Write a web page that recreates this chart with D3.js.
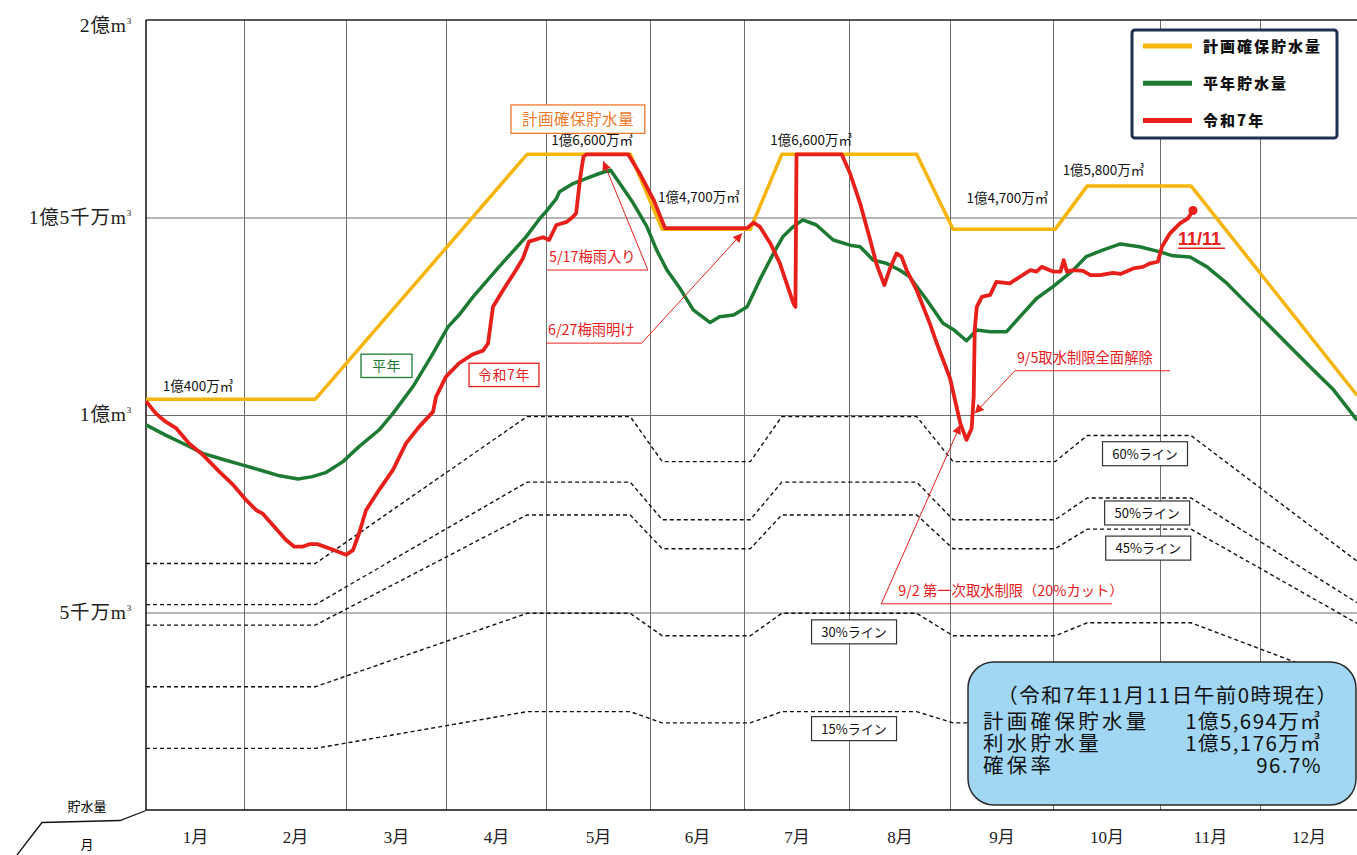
<!DOCTYPE html>
<html>
<head>
<meta charset="utf-8">
<script src="https://cdn.jsdelivr.net/npm/d3@7"></script>
<style>
  body { margin: 0; background: #fff; }
  svg { display: block; font-family: "Noto Sans CJK JP", sans-serif; }
</style>
</head>
<body>
<svg id="chart" width="1357" height="855"></svg>
<script>
// t = months since 1/1 (0..12), values in 百万㎥
var months = ["1月","2月","3月","4月","5月","6月","7月","8月","9月","10月","11月","12月"];
var yTicks = [50, 100, 150, 200];
var yTickLabels = ["5千万", "1億", "1億5千万", "2億"];

// 計画確保貯水量
var planT = [0, 1.70, 3.81, 4.81, 5.13, 6.06, 6.36, 7.67, 8.03, 9.02, 9.32, 10.31, 12];
var planV = [104, 104, 166, 166, 147, 147, 166, 166, 147, 147, 158, 158, 105];

// percentage lines of the plan
var ratios = [60, 50, 45, 30, 15];

// 平年貯水量
var normal = [[0,97.5],[0.20,94.9],[0.41,92.4],[0.58,90.3],[0.78,88.8],[0.99,87.3],[1.18,85.9],[1.35,84.6],
  [1.53,83.8],[1.67,84.4],[1.80,85.4],[1.97,88.2],[2.13,92.0],[2.33,96.2],[2.47,100.4],[2.67,107.2],
  [2.87,115.6],[3.02,122.3],[3.13,125.3],[3.27,129.9],[3.53,137.5],[3.80,145.1],[3.94,149.8],[4.00,151.5],
  [4.10,154.8],[4.13,156.5],[4.26,158.6],[4.39,159.9],[4.52,161.2],[4.62,162.0],[4.71,158.6],[4.84,153.6],
  [4.97,147.7],[5.07,141.8],[5.18,136.7],[5.32,132.0],[5.46,126.6],[5.64,123.4],[5.74,124.9],[5.89,125.3],
  [6.03,127.4],[6.15,134.2],[6.28,140.9],[6.37,145.1],[6.47,147.7],[6.56,149.4],[6.69,148.1],[6.85,144.3],
  [7.01,143.0],[7.11,142.6],[7.24,139.2],[7.37,138.4],[7.50,136.7],[7.60,135.0],[7.77,129.1],[7.93,123.2],
  [8.04,121.5],[8.16,118.8],[8.26,121.5],[8.39,121.1],[8.55,121.1],[8.68,124.9],[8.84,129.5],[9.00,132.5],
  [9.19,136.7],[9.31,140.1],[9.47,141.8],[9.63,143.3],[9.81,142.6],[10.00,141.3],[10.13,140.3],[10.30,140.0],
  [10.47,137.5],[10.67,133.3],[10.87,128.2],[11.07,123.2],[11.31,117.3],[11.55,111.4],[11.76,106.3],[12.00,98.7]];

// 令和7年
var r7 = [[0,103.5],[0.10,100.4],[0.20,98.3],[0.31,96.6],[0.44,92.8],[0.58,89.9],[0.75,85.6],[0.89,82.3],
  [1.02,78.5],[1.12,75.9],[1.18,75.1],[1.31,71.3],[1.41,68.4],[1.49,66.7],[1.58,66.7],[1.64,67.3],[1.72,67.3],
  [1.84,66.2],[2.00,64.6],[2.07,65.8],[2.13,70.0],[2.20,75.9],[2.33,81.0],[2.47,86.1],[2.60,92.8],[2.73,97.0],
  [2.87,100.8],[2.90,104.6],[3.00,109.7],[3.13,113.1],[3.27,115.4],[3.37,116.3],[3.42,118.1],[3.47,127.4],
  [3.57,131.6],[3.70,136.7],[3.77,139.7],[3.83,143.9],[3.97,145.0],[4.03,144.3],[4.10,148.1],[4.20,148.9],
  [4.26,150.2],[4.29,151.1],[4.33,160.3],[4.36,165.4],[4.39,166.0],[4.79,166.0],[4.90,161.2],[5.04,154.4],
  [5.16,147.3],[6.03,147.3],[6.09,148.7],[6.15,147.7],[6.25,143.5],[6.34,138.5],[6.47,128.3],[6.49,127.4],
  [6.50,166.0],[6.93,166.0],[7.01,161.2],[7.11,153.6],[7.21,144.3],[7.27,138.4],[7.35,132.9],[7.40,136.7],
  [7.47,140.9],[7.52,140.1],[7.57,136.7],[7.67,131.6],[7.80,123.2],[7.87,118.1],[8.00,109.3],[8.10,97.9],
  [8.16,93.7],[8.21,96.6],[8.23,104.6],[8.24,121.5],[8.26,127.4],[8.31,129.9],[8.39,130.4],[8.45,133.7],
  [8.58,133.3],[8.68,135.0],[8.78,136.7],[8.84,136.3],[8.89,137.5],[9.00,136.3],[9.07,136.3],[9.10,139.2],
  [9.13,136.3],[9.19,136.7],[9.28,136.5],[9.35,135.4],[9.44,135.4],[9.56,136.0],[9.63,135.7],[9.75,137.1],
  [9.84,137.5],[9.91,138.4],[9.98,138.8],[10.02,142.6],[10.10,146.0],[10.20,148.5],[10.28,149.8],[10.33,151.76]];

// value labels on the plan line: [text, t, v]
var planLabels = [["1億400万㎥",0.17,106],["1億6,600万㎥",4.05,168.4],["1億4,700万㎥",5.085,154],
  ["1億6,600万㎥",6.25,168.4],["1億4,700万㎥",8.16,153.7],["1億5,800万㎥",9.09,160.8]];

// red notes: text, underline t from/to, underline v, arrow from which end, arrow tip [t,v]
var notes = [
  {text:"5/17梅雨入り", t0:4.01, t1:4.98, v:136.7, dx:2, from:"end", tip:[4.55,164.3]},
  {text:"6/27梅雨明け", t0:4.00, t1:4.92, v:118.2, dx:2, from:"end", tip:[5.98,146.0]},
  {text:"9/5取水制限全面解除", t0:8.63, t1:10.10, v:111.2, dx:2, from:"start", tip:[8.24,100.4]},
  {text:"9/2 第一次取水制限（20%カット）", t0:7.32, t1:9.55, v:52.2, dx:17, from:"start", tip:[8.10,97.5]}
];

// ratio line label boxes: centre [t, v]
var ratioBoxes = [[9.86,90.2],[9.88,75.2],[9.89,66.3],[7.05,45.1],[7.05,20.6]];

var colors = {plan:"#f5b50a", normal:"#1d7a33", r7:"#e8201c"};

var svg = d3.select("#chart");
var W = 1357;
var monthEdges = [146,244,346,446,546,650,744,849,950,1053,1160,1260,1357];
var x = d3.scaleLinear().domain(d3.range(13)).range(monthEdges);
var y = d3.scaleLinear().domain([0,200]).range([810,20]);

svg.append("rect").attr("width",W).attr("height",855).attr("fill","#fff");

var defs = svg.append("defs");
defs.append("marker").attr("id","arr").attr("viewBox","0 0 10 10")
  .attr("refX",10).attr("refY",5).attr("markerWidth",12).attr("markerHeight",9)
  .attr("markerUnits","userSpaceOnUse").attr("orient","auto")
  .append("path").attr("d","M0,0L10,5L0,10z").attr("fill",colors.r7);

// grid
svg.append("g").attr("transform","translate(0,810)")
  .call(d3.axisBottom(x).tickValues(d3.range(1,12)).tickSize(-790).tickFormat(""))
  .call(function(g){ g.select(".domain").remove(); g.selectAll("line").attr("stroke","#6e6e6e"); });
svg.append("g").attr("transform","translate(146,0)")
  .call(d3.axisLeft(y).tickValues([50,100,150]).tickSize(-(W-146)).tickFormat(""))
  .call(function(g){ g.select(".domain").remove(); g.selectAll("line").attr("stroke","#6e6e6e"); });

// frame
svg.append("line").attr("x1",146).attr("x2",W).attr("y1",y(200)).attr("y2",y(200)).attr("stroke","#222").attr("stroke-width",1.5);
svg.append("line").attr("x1",146).attr("x2",146).attr("y1",y(200)).attr("y2",y(0)).attr("stroke","#111").attr("stroke-width",1.5);
svg.append("line").attr("x1",146).attr("x2",W).attr("y1",y(0)).attr("y2",y(0)).attr("stroke","#111").attr("stroke-width",1.5);
svg.append("polyline").attr("points","146,810.5 120,820.5 42,822.5 17,855")
  .attr("fill","none").attr("stroke","#111").attr("stroke-width",1.3);
svg.append("text").attr("x",87).attr("y",811).attr("text-anchor","middle").attr("font-size",13).text("貯水量");
svg.append("text").attr("x",87).attr("y",849).attr("text-anchor","middle").attr("font-size",13).text("月");

// y labels
var yAx = svg.append("g").attr("transform","translate(146,0)")
  .call(d3.axisLeft(y).tickValues(yTicks).tickSize(0).tickPadding(14).tickFormat(""));
yAx.select(".domain").remove();
yAx.selectAll(".tick text").each(function(d,i){
  var t = d3.select(this).attr("font-size",19.5).attr("fill","#222").attr("letter-spacing",0.8)
    .attr("font-family","'Liberation Serif','Noto Sans CJK JP',serif").attr("dy", i==3 ? "0.6em" : "0.3em");
  t.append("tspan").text(yTickLabels[i] + "m");
  t.append("tspan").attr("font-size",9).attr("dy","-0.9em").text("3");
});

// month labels
var xAx = svg.append("g").attr("transform","translate(0,810)")
  .call(d3.axisBottom(x).tickValues(d3.range(12).map(function(i){return i+0.5;}))
    .tickSize(0).tickPadding(21).tickFormat(function(d){ return months[Math.floor(d)]; }));
xAx.select(".domain").remove();
xAx.selectAll(".tick text").attr("font-size",17).attr("fill","#222")
  .attr("font-family","'Liberation Serif','Noto Sans CJK JP',serif");

// ratio dashed lines
var planPts = planT.map(function(t,i){ return [t, planV[i]]; });
var line = d3.line().x(function(d){return x(d[0]);}).y(function(d){return y(d[1]);});
svg.append("g").selectAll("path").data(ratios).join("path")
  .attr("d", function(r){ return line(planPts.map(function(p){ return [p[0], p[1]*r/100]; })); })
  .attr("fill","none").attr("stroke","#111").attr("stroke-width",1.4).attr("stroke-dasharray","4,3");

var rb = svg.append("g").selectAll("g").data(ratioBoxes).join("g")
  .attr("transform", function(d){ return "translate(" + x(d[0]) + "," + y(d[1]) + ")"; });
rb.append("rect").attr("x",-42.5).attr("y",-12).attr("width",85).attr("height",24)
  .attr("fill","#fff").attr("stroke","#333").attr("stroke-width",1.2);
rb.append("text").attr("text-anchor","middle").attr("y",5).attr("font-size",13).attr("fill","#111")
  .text(function(d,i){ return ratios[i] + "%ライン"; });

// main series
svg.append("path").attr("d", line(planPts)).attr("fill","none")
  .attr("stroke",colors.plan).attr("stroke-width",3.5).attr("stroke-linejoin","round");
svg.append("path").attr("d", line(normal)).attr("fill","none")
  .attr("stroke",colors.normal).attr("stroke-width",3.5).attr("stroke-linejoin","round");
svg.append("path").attr("d", line(r7)).attr("fill","none")
  .attr("stroke",colors.r7).attr("stroke-width",3.8).attr("stroke-linejoin","round");
var last = r7[r7.length-1];
svg.append("circle").attr("cx",x(last[0])).attr("cy",y(last[1])).attr("r",4.5).attr("fill",colors.r7);

// plan value labels
svg.append("g").selectAll("text").data(planLabels).join("text")
  .attr("x",function(d){return x(d[1]);}).attr("y",function(d){return y(d[2]);})
  .attr("font-size",13.5).attr("fill","#111").text(function(d){return d[0];});

// series tag boxes
function tag(label, t0, t1, v0, v1, col, fs){
  var g = svg.append("g");
  g.append("rect").attr("x",x(t0)).attr("y",y(v0)).attr("width",x(t1)-x(t0)).attr("height",y(v1)-y(v0))
    .attr("fill","#fff").attr("stroke",col).attr("stroke-width",1.3);
  g.append("text").attr("x",(x(t0)+x(t1))/2).attr("y",(y(v0)+y(v1))/2 + fs*0.36)
    .attr("text-anchor","middle").attr("font-size",fs).attr("fill",col).attr("letter-spacing",0.5).text(label);
}
tag("計画確保貯水量", 3.65, 4.95, 178.5, 171.3, "#ec7a2c", 15.5);
tag("平年", 2.15, 2.66, 115.4, 109.5, colors.normal, 14);
tag("令和7年", 3.23, 3.93, 113.1, 107.2, colors.r7, 14);

// notes with arrows
var ng = svg.append("g").selectAll("g").data(notes).join("g");
ng.append("text").attr("x",function(d){return x(d.t0)+d.dx;}).attr("y",function(d){return y(d.v)-8;})
  .attr("font-size",14.3).attr("fill",colors.r7).text(function(d){return d.text;});
ng.append("line").attr("x1",function(d){return x(d.t0);}).attr("x2",function(d){return x(d.t1);})
  .attr("y1",function(d){return y(d.v);}).attr("y2",function(d){return y(d.v);})
  .attr("stroke",colors.r7).attr("stroke-width",1);
ng.append("line")
  .attr("x1",function(d){return x(d.from=="end" ? d.t1 : d.t0);}).attr("y1",function(d){return y(d.v);})
  .attr("x2",function(d){return x(d.tip[0]);}).attr("y2",function(d){return y(d.tip[1]);})
  .attr("stroke",colors.r7).attr("stroke-width",1).attr("marker-end","url(#arr)");

// 11/11
svg.append("text").attr("x",x(10.18)).attr("y",y(143)).attr("font-size",18).attr("font-weight","bold")
  .attr("font-family","'Liberation Sans',sans-serif").attr("fill",colors.r7).text("11/11");
svg.append("line").attr("x1",x(10.18)).attr("x2",x(10.18)+47).attr("y1",y(143)+3).attr("y2",y(143)+3)
  .attr("stroke",colors.r7).attr("stroke-width",1.5);

// legend
var lg = svg.append("g");
lg.append("rect").attr("x",1132).attr("y",30).attr("width",205).attr("height",108).attr("rx",3)
  .attr("fill","#fff").attr("stroke","#1f3050").attr("stroke-width",3);
var legendItems = [["計画確保貯水量",colors.plan],["平年貯水量",colors.normal],["令和7年",colors.r7]];
legendItems.forEach(function(it,i){
  var yy = 46 + i*37.3;
  lg.append("line").attr("x1",1143).attr("x2",1192).attr("y1",yy).attr("y2",yy)
    .attr("stroke",it[1]).attr("stroke-width",5);
  lg.append("text").attr("x",1203).attr("y",yy+5.5).attr("font-size",15).attr("font-weight",900)
    .attr("letter-spacing",2).attr("fill","#111").text(it[0]);
});

// info box
var ib = svg.append("g");
ib.append("rect").attr("x",968).attr("y",662).attr("width",388).attr("height",143).attr("rx",26)
  .attr("fill","#a2d7f4").attr("stroke","#2a2a2a").attr("stroke-width",1.5);
ib.append("text").attr("x",1168).attr("y",703).attr("text-anchor","middle").attr("font-size",20.5)
  .attr("letter-spacing",1.5).attr("fill","#111").text("（令和7年11月11日午前0時現在）");
var infoRows = [["計画確保貯水量","1億5,694万㎥"],["利水貯水量","1億5,176万㎥"],["確保率","96.7%"]];
infoRows.forEach(function(r,i){
  var yy = 729 + i*22;
  ib.append("text").attr("x",983).attr("y",yy).attr("font-size",20.5).attr("letter-spacing",3.3).attr("fill","#111").text(r[0]);
  ib.append("text").attr("x",1322).attr("y",yy).attr("text-anchor","end").attr("font-size",20.5)
    .attr("letter-spacing",1.4).attr("fill","#111").text(r[1]);
});
</script>
</body>
</html>
